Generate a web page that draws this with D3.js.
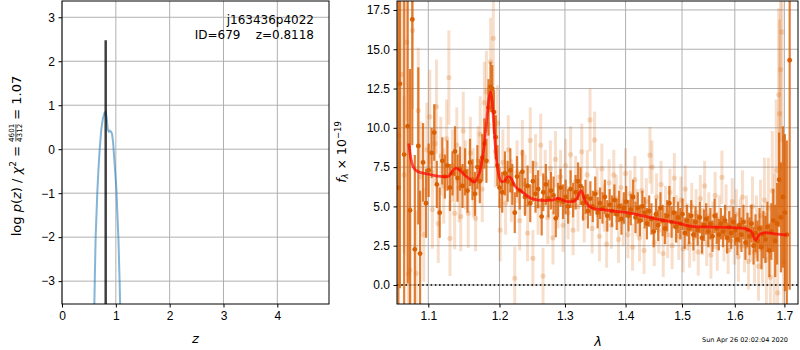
<!DOCTYPE html>
<html>
<head>
<meta charset="utf-8">
<script src="https://cdn.jsdelivr.net/npm/d3@7"></script>
<style>
  body { margin: 0; background: #fff; }
  svg { font-family: "DejaVu Sans", sans-serif; }
  .tick text { font-size: 12px; fill: #000; }
  .tick line { stroke: #000; }
</style>
</head>
<body>
<div id="chart"></div>
<script>
// ---- data ----
var fieldName = "j163436p4022";
var objId = 679;
var zBest = 0.8118;
var zBestPeak = 2.48;

// p(z) curve
var pzZ =    [0.58, 0.600, 0.610, 0.625, 0.655, 0.680, 0.700, 0.730, 0.760, 0.790, 0.810, 0.830, 0.850, 0.870, 0.890, 0.910, 0.930, 0.950, 0.970, 0.990, 1.010, 1.030, 1.050, 1.070, 1.085, 1.10];
var pzLogP = [-5.0, -3.6,  -2.9,  -2.0,  -1.0,  -0.4,  0.0,   0.45,  0.70,  0.83,  0.85,  0.70,  0.45,  0.40,  0.42,  0.40,  0.35,  0.15,  -0.2,  -0.55, -0.9,  -1.5,  -2.1,  -3.0,  -3.8,  -4.6];

var zTicks = [0, 1, 2, 3, 4];
var pzTicks = [-3, -2, -1, 0, 1, 2, 3];
var lamTicks = [1.1, 1.2, 1.3, 1.4, 1.5, 1.6, 1.7];
var fluxTicks = [0, 2.5, 5, 7.5, 10, 12.5, 15, 17.5];

// spectrum: [lambda (micron), flux, err]
var darkPts = [
  [1.0605, 6.2, 14], [1.0625, 12.8, 13], [1.068, 8.3, 11], [1.0726, 10.1, 10], [1.0757, 4.75, 9],
  [1.0787, 16.9, 8], [1.082, 2.27, 6], [1.0866, 8.85, 5], [1.089, 2.0, 4], [1.093, 7.8, 2.5], [1.097, 5.2, 2.2],
  [1.1005, 7.3, 1.7], [1.1045, 8.4, 1.6], [1.108, 9.7, 1.8], [1.1115, 6.4, 1.5], [1.1154, 4.6, 1.6],
  [1.119, 7.9, 1.5], [1.1225, 6.9, 1.4], [1.126, 7.6, 1.6], [1.1295, 6.2, 1.5], [1.133, 7.1, 1.4],
  [1.1365, 8.5, 1.6], [1.140, 6.8, 1.5], [1.1435, 7.4, 1.4], [1.147, 6.3, 1.4], [1.1505, 7.2, 1.5],
  [1.154, 6.0, 1.4], [1.1575, 7.8, 1.5], [1.161, 6.7, 1.3], [1.1645, 5.8, 1.4], [1.168, 7.5, 1.4],
  [1.1715, 6.6, 1.4], [1.175, 8.1, 1.5], [1.178, 9.0, 1.6], [1.181, 7.9, 1.4], [1.184, 11.3, 1.8],
  [1.187, 12.6, 1.6], [1.1895, 12.5, 1.5], [1.192, 11.0, 1.4], [1.1945, 9.4, 1.4], [1.197, 7.6, 1.3],
  [1.200, 6.2, 1.3], [1.204, 5.9, 1.3], [1.208, 7.1, 1.4], [1.212, 6.6, 1.3], [1.216, 7.3, 1.4],
  [1.219, 6.4, 1.3], [1.2226, 4.6, 1.3], [1.226, 6.9, 1.3], [1.230, 6.0, 1.2], [1.234, 7.2, 1.4],
  [1.238, 5.6, 1.2], [1.242, 6.3, 1.3], [1.246, 5.2, 1.2], [1.250, 6.6, 1.3], [1.254, 5.8, 1.2],
  [1.258, 6.1, 1.2], [1.2635, 4.35, 1.2], [1.266, 5.9, 1.2], [1.270, 6.4, 1.3], [1.274, 5.5, 1.2],
  [1.278, 6.0, 1.2], [1.282, 5.7, 1.2], [1.2855, 4.24, 1.2], [1.289, 5.4, 1.1], [1.293, 6.2, 1.2],
  [1.297, 5.3, 1.1], [1.301, 5.6, 1.1], [1.305, 5.0, 1.1], [1.309, 6.1, 1.2], [1.313, 5.4, 1.1],
  [1.317, 5.9, 1.1], [1.321, 6.6, 1.2], [1.325, 6.3, 1.2], [1.329, 5.2, 1.1], [1.333, 5.6, 1.1],
  [1.337, 4.7, 1.1], [1.341, 5.5, 1.1], [1.345, 5.0, 1.0], [1.349, 5.8, 1.1], [1.353, 4.6, 1.0],
  [1.357, 5.2, 1.0], [1.361, 4.9, 1.0], [1.365, 5.6, 1.1], [1.369, 4.4, 1.0], [1.373, 5.1, 1.0],
  [1.377, 4.7, 1.0], [1.381, 5.4, 1.0], [1.385, 4.5, 1.0], [1.389, 5.0, 1.0], [1.393, 4.2, 1.0],
  [1.397, 4.9, 1.0], [1.401, 5.3, 1.0], [1.405, 4.4, 1.0], [1.409, 4.8, 1.0], [1.413, 5.6, 1.1],
  [1.417, 4.3, 1.0], [1.421, 4.9, 1.0], [1.425, 4.1, 1.0], [1.429, 5.0, 1.0], [1.433, 4.6, 1.0],
  [1.437, 3.9, 1.0], [1.441, 4.7, 1.0], [1.445, 4.2, 1.0], [1.449, 3.4, 1.0], [1.453, 4.5, 1.0],
  [1.457, 3.8, 1.0], [1.461, 4.9, 1.0], [1.465, 4.1, 1.0], [1.469, 3.6, 1.0], [1.473, 4.4, 1.0],
  [1.477, 5.2, 1.1], [1.481, 4.0, 1.0], [1.485, 4.6, 1.0], [1.489, 3.7, 1.0], [1.493, 4.3, 1.0],
  [1.497, 3.9, 1.0], [1.501, 4.5, 1.0], [1.505, 3.3, 1.0], [1.509, 4.1, 1.0], [1.513, 3.6, 1.0],
  [1.517, 4.4, 1.0], [1.521, 3.2, 1.0], [1.525, 4.0, 1.0], [1.529, 3.5, 1.0], [1.533, 4.3, 1.0],
  [1.537, 3.0, 1.0], [1.541, 3.8, 1.0], [1.545, 4.2, 1.0], [1.549, 3.4, 1.0], [1.553, 3.9, 1.0],
  [1.557, 3.1, 1.0], [1.561, 4.4, 1.1], [1.565, 3.6, 1.0], [1.569, 3.2, 1.0], [1.573, 3.9, 1.0],
  [1.577, 3.4, 1.0], [1.581, 4.1, 1.0], [1.585, 3.0, 1.0], [1.589, 3.7, 1.0], [1.593, 3.3, 1.0],
  [1.597, 4.0, 1.0], [1.601, 3.5, 1.0], [1.605, 2.9, 1.0], [1.609, 3.8, 1.1], [1.613, 3.2, 1.1],
  [1.617, 4.0, 1.1], [1.621, 2.7, 1.1], [1.625, 3.5, 1.1], [1.629, 3.1, 1.2], [1.633, 3.9, 1.2],
  [1.637, 2.5, 1.2], [1.641, 3.3, 1.2], [1.645, 2.8, 1.3], [1.649, 3.6, 1.3], [1.653, 2.4, 1.4],
  [1.657, 3.2, 1.5], [1.661, 2.9, 1.5], [1.665, 3.7, 1.6], [1.669, 2.2, 1.7], [1.673, 3.4, 1.8],
  [1.677, 4.1, 2.0], [1.681, 2.8, 2.3], [1.685, 3.9, 2.6], [1.689, 6.7, 3.0], [1.693, 4.3, 3.5],
  [1.697, 5.6, 4.5], [1.701, 4.6, 5.0], [1.705, 3.2, 6.0], [1.711, 14.3, 14.6]
];

var lightPts = [
  [1.061, 9.5, 6], [1.0645, 13.4, 5], [1.068, 7.0, 5], [1.0715, 15.45, 5], [1.0735, 0.7, 4],
  [1.0757, 0.95, 4], [1.079, 16.2, 5], [1.0838, 0.74, 4], [1.0866, 11.1, 4], [1.090, 6.9, 3.5],
  [1.094, 3.2, 3], [1.098, 8.6, 3], [1.102, 10.7, 3], [1.1055, 4.8, 2.5], [1.109, 9.0, 2.5],
  [1.111, 11.35, 3], [1.1135, 3.9, 2.5], [1.117, 8.2, 2.5], [1.121, 6.3, 2.4], [1.125, 9.3, 2.5],
  [1.128, 13.2, 3], [1.1295, 2.97, 2.4], [1.133, 7.6, 2.3], [1.136, 4.56, 2.3], [1.139, 8.9, 2.4],
  [1.142, 6.2, 2.2], [1.1445, 4.35, 2.2], [1.148, 9.8, 2.5], [1.151, 7.0, 2.2], [1.155, 4.56, 2.2],
  [1.158, 8.4, 2.3], [1.162, 6.5, 2.2], [1.1655, 4.24, 2.1], [1.169, 7.9, 2.2], [1.172, 9.6, 2.4],
  [1.175, 6.1, 2.1], [1.178, 11.6, 2.6], [1.181, 12.3, 2.6], [1.184, 10.2, 2.5], [1.187, 14.2, 2.8],
  [1.191, 15.7, 3.0], [1.194, 8.5, 2.3], [1.197, 10.3, 2.4], [1.201, 3.5, 2.0], [1.205, 7.8, 2.1],
  [1.209, 5.2, 2.0], [1.213, 8.6, 2.2], [1.2175, 6.0, 2.0], [1.2226, 0.43, 2.0], [1.226, 7.2, 2.0],
  [1.230, 4.1, 1.9], [1.234, 8.4, 2.1], [1.238, 6.4, 1.9], [1.242, 3.3, 1.8], [1.246, 9.2, 2.1],
  [1.250, 1.7, 1.8], [1.254, 7.7, 1.9], [1.258, 5.0, 1.8], [1.262, 8.9, 2.0], [1.2656, 0.57, 1.8],
  [1.269, 6.8, 1.8], [1.273, 4.3, 1.7], [1.277, 7.4, 1.8], [1.281, 3.0, 1.7], [1.285, 8.0, 1.8],
  [1.289, 5.3, 1.7], [1.293, 6.9, 1.7], [1.297, 3.8, 1.7], [1.301, 7.6, 1.7], [1.305, 4.6, 1.7],
  [1.309, 8.3, 1.8], [1.313, 3.5, 1.6], [1.317, 6.6, 1.6], [1.321, 5.0, 1.6], [1.327, 8.47, 1.8],
  [1.331, 4.3, 1.6], [1.336, 7.0, 1.6], [1.3405, 10.5, 2.0], [1.344, 3.6, 1.6], [1.348, 9.23, 1.8],
  [1.352, 5.9, 1.6], [1.356, 3.1, 1.6], [1.360, 7.4, 1.6], [1.364, 4.9, 1.5], [1.368, 2.6, 1.5],
  [1.372, 6.5, 1.5], [1.376, 3.8, 1.5], [1.380, 7.0, 1.6], [1.384, 5.5, 1.5], [1.388, 2.9, 1.5],
  [1.392, 6.2, 1.5], [1.396, 4.0, 1.5], [1.400, 7.1, 1.6], [1.404, 3.2, 1.5], [1.408, 5.8, 1.5],
  [1.412, 2.4, 1.5], [1.416, 6.7, 1.5], [1.420, 4.6, 1.5], [1.424, 3.0, 1.5], [1.428, 6.0, 1.5],
  [1.432, 2.2, 1.5], [1.436, 5.3, 1.5], [1.4424, 8.26, 1.8], [1.446, 7.5, 1.7], [1.450, 2.7, 1.5],
  [1.454, 5.6, 1.5], [1.458, 3.5, 1.5], [1.462, 6.4, 1.5], [1.466, 2.0, 1.5], [1.470, 4.8, 1.5],
  [1.474, 3.2, 1.5], [1.478, 5.9, 1.5], [1.482, 2.5, 1.5], [1.486, 6.8, 1.6], [1.490, 4.2, 1.5],
  [1.494, 3.1, 1.5], [1.498, 5.4, 1.5], [1.502, 2.3, 1.5], [1.506, 6.1, 1.5], [1.510, 3.7, 1.5],
  [1.514, 2.6, 1.5], [1.518, 5.0, 1.5], [1.522, 3.0, 1.5], [1.526, 4.6, 1.5], [1.530, 2.1, 1.5],
  [1.534, 5.5, 1.5], [1.538, 3.4, 1.5], [1.542, 6.3, 1.6], [1.546, 2.7, 1.5], [1.550, 4.4, 1.5],
  [1.554, 1.9, 1.5], [1.558, 3.8, 1.5], [1.562, 5.7, 1.5], [1.566, 2.4, 1.5], [1.570, 4.2, 1.5],
  [1.575, 6.85, 1.7], [1.579, 3.0, 1.5], [1.583, 4.9, 1.5], [1.587, 2.2, 1.5], [1.591, 3.6, 1.5],
  [1.595, 5.3, 1.5], [1.599, 2.8, 1.5], [1.603, 4.5, 1.6], [1.607, 1.8, 1.6], [1.611, 3.9, 1.6],
  [1.615, 5.6, 1.7], [1.619, 2.5, 1.7], [1.623, 4.0, 1.7], [1.627, 1.5, 1.8], [1.631, 3.3, 1.8],
  [1.635, 5.0, 1.9], [1.639, 2.1, 2.0], [1.643, 3.7, 2.0], [1.647, 1.2, 2.2], [1.651, 4.4, 2.3],
  [1.655, 2.6, 2.5], [1.659, 5.4, 2.7], [1.663, 1.6, 3.0], [1.667, 4.9, 3.2], [1.671, 0.5, 3.5],
  [1.675, 6.0, 3.8], [1.679, 2.9, 4.2], [1.683, 7.3, 4.5], [1.686, -0.5, 5], [1.688, 12.1, 5.5],
  [1.690, 10.9, 6], [1.692, 13.7, 6.5], [1.695, 16.1, 7], [1.698, 1.5, 8]
];

// best-fit template
var modelLam =  [1.074, 1.077, 1.080, 1.085, 1.090, 1.100, 1.110, 1.120, 1.127, 1.132, 1.138, 1.143, 1.150, 1.157, 1.163,
                 1.168, 1.173, 1.177, 1.181, 1.1845, 1.187, 1.1895, 1.192, 1.195, 1.198, 1.203, 1.207, 1.212, 1.217, 1.223,
                 1.233, 1.248, 1.268, 1.280, 1.288, 1.297, 1.305, 1.312, 1.319, 1.326, 1.331, 1.335, 1.345, 1.360, 1.380,
                 1.403, 1.430, 1.462, 1.490, 1.522, 1.550, 1.585, 1.617, 1.627, 1.633, 1.641, 1.648, 1.655, 1.662, 1.680, 1.705];
var modelFlux = [9.0, 8.0, 7.5, 7.25, 7.15, 7.05, 6.95, 6.9, 6.9, 7.2, 7.43, 7.3, 7.0, 6.75, 6.55,
                 6.8, 7.5, 8.6, 10.3, 11.8, 12.3, 11.6, 10.0, 8.3, 7.2, 6.57, 6.6, 6.9, 6.8, 6.3,
                 5.95, 5.5, 5.37, 5.4, 5.52, 5.4, 5.3, 5.3, 5.5, 6.0, 5.5, 5.2, 4.88, 4.8, 4.7,
                 4.6, 4.4, 4.14, 3.95, 3.71, 3.69, 3.67, 3.61, 3.5, 3.39, 2.86, 3.18, 3.3, 3.33, 3.25, 3.18];

var stamp = "Sun Apr 26 02:02:04 2020";

// ---- layout ----
var svgWidth = 800, svgHeight = 350;
var pzBox = { left: 62, right: 329, top: 1, bottom: 304 };
var spBox = { left: 397, right: 798, top: 1, bottom: 304 };
var orange = "#d95f02";

var svg = d3.select("#chart").append("svg")
  .attr("width", svgWidth)
  .attr("height", svgHeight);

var defs = svg.append("defs");
[["clipPz", pzBox], ["clipSp", spBox]].forEach(function(c) {
  defs.append("clipPath").attr("id", c[0]).append("rect")
    .attr("x", c[1].left).attr("y", c[1].top)
    .attr("width", c[1].right - c[1].left).attr("height", c[1].bottom - c[1].top);
});

var fmtMinus = function(d) { return d3.format("d")(d).replace("-", "\u2212"); };

// ================= left panel: p(z) =================
var zScale = d3.scaleLinear().domain([0, 4.96]).range([pzBox.left, pzBox.right]);
var pzScale = d3.scaleLinear().domain([-3.52, 3.37]).range([pzBox.bottom, pzBox.top]);

// grid
var pzGrid = svg.append("g").attr("stroke", "#b0b0b0").attr("stroke-width", 1);
zTicks.forEach(function(t) {
  pzGrid.append("line").attr("x1", zScale(t)).attr("x2", zScale(t))
    .attr("y1", pzBox.top).attr("y2", pzBox.bottom);
});
pzTicks.forEach(function(t) {
  pzGrid.append("line").attr("y1", pzScale(t)).attr("y2", pzScale(t))
    .attr("x1", pzBox.left).attr("x2", pzBox.right);
});

var pzPlot = svg.append("g").attr("clip-path", "url(#clipPz)");

var pzLine = d3.line()
  .x(function(d, i) { return zScale(pzZ[i]); })
  .y(function(d) { return pzScale(d); });

pzPlot.append("path")
  .datum(pzLogP)
  .attr("d", pzLine)
  .attr("fill", "none")
  .attr("stroke", "#1f77b4")
  .attr("stroke-opacity", 0.55)
  .attr("stroke-width", 2);

pzPlot.append("line")
  .attr("x1", zScale(zBest)).attr("x2", zScale(zBest))
  .attr("y1", pzBox.bottom).attr("y2", pzScale(zBestPeak))
  .attr("stroke", "#000").attr("stroke-opacity", 0.75).attr("stroke-width", 2.5);

// axes
svg.append("g")
  .attr("transform", "translate(0," + pzBox.bottom + ")")
  .call(d3.axisBottom(zScale).tickValues(zTicks).tickFormat(d3.format("d")).tickSize(3.5).tickSizeOuter(0).tickPadding(3.5))
  .call(function(g) { g.select(".domain").remove(); });

svg.append("g")
  .attr("transform", "translate(" + pzBox.left + ",0)")
  .call(d3.axisLeft(pzScale).tickValues(pzTicks).tickFormat(fmtMinus).tickSize(3.5).tickSizeOuter(0).tickPadding(3.5))
  .call(function(g) { g.select(".domain").remove(); });

svg.append("rect")
  .attr("x", pzBox.left).attr("y", pzBox.top)
  .attr("width", pzBox.right - pzBox.left).attr("height", pzBox.bottom - pzBox.top)
  .attr("fill", "none").attr("stroke", "#000").attr("stroke-width", 1);

// annotations
svg.append("text")
  .attr("x", 314).attr("y", 24)
  .attr("text-anchor", "end")
  .attr("font-size", 12)
  .text(fieldName);
svg.append("text")
  .attr("x", 314).attr("y", 39)
  .attr("text-anchor", "end")
  .attr("font-size", 12)
  .text("ID=" + objId + "\u00a0\u00a0\u00a0\u00a0z=" + zBest.toFixed(4));

// x label
svg.append("text")
  .attr("x", (pzBox.left + pzBox.right) / 2).attr("y", 343)
  .attr("text-anchor", "middle")
  .attr("font-size", 13)
  .attr("font-style", "italic")
  .text("z");

// y label: log p(z) / chi^2 = 4601/4312 = 1.07
var ylab = svg.append("g").attr("transform", "translate(20.5,156) rotate(-90)");
var ylabInner = ylab.append("g");
var t1 = ylabInner.append("text").attr("font-size", 13).attr("x", 0).attr("y", 0);
t1.append("tspan").text("log\u00a0");
t1.append("tspan").attr("font-style", "italic").text("p");
t1.append("tspan").text("(");
t1.append("tspan").attr("font-style", "italic").text("z");
t1.append("tspan").text(")\u00a0/\u00a0");
t1.append("tspan").attr("font-style", "italic").text("\u03c7");
t1.append("tspan").attr("font-size", 9).attr("dy", -5).text("2");
t1.append("tspan").attr("dy", 5).text("\u00a0=\u00a0");
var w1 = t1.node().getComputedTextLength();
var fracW = 18;
ylabInner.append("text").attr("font-size", 7.2).attr("text-anchor", "middle")
  .attr("x", w1 + fracW / 2).attr("y", -6.3).text("4601");
ylabInner.append("line")
  .attr("x1", w1 + 0.5).attr("x2", w1 + fracW - 0.5)
  .attr("y1", -4.6).attr("y2", -4.6)
  .attr("stroke", "#000").attr("stroke-width", 0.7);
ylabInner.append("text").attr("font-size", 7.2).attr("text-anchor", "middle")
  .attr("x", w1 + fracW / 2).attr("y", 1.6).text("4312");
var t3 = ylabInner.append("text").attr("font-size", 13).attr("x", w1 + fracW).attr("y", 0)
  .text("\u00a0=\u00a01.07");
var wTot = w1 + fracW + t3.node().getComputedTextLength();
ylabInner.attr("transform", "translate(" + (-wTot / 2) + ",0)");

// ================= right panel: spectrum =================
var lamScale = d3.scaleLog().domain([1.0587, 1.7285]).range([spBox.left, spBox.right]);
var fluxScale = d3.scaleLinear().domain([-1.21, 18.07]).range([spBox.bottom, spBox.top]);

var spGrid = svg.append("g").attr("stroke", "#b0b0b0").attr("stroke-width", 1);
lamTicks.forEach(function(t) {
  spGrid.append("line").attr("x1", lamScale(t)).attr("x2", lamScale(t))
    .attr("y1", spBox.top).attr("y2", spBox.bottom);
});
fluxTicks.forEach(function(t) {
  spGrid.append("line").attr("y1", fluxScale(t)).attr("y2", fluxScale(t))
    .attr("x1", spBox.left).attr("x2", spBox.right);
});

var spPlot = svg.append("g").attr("clip-path", "url(#clipSp)");

// light (masked) points
spPlot.append("g").selectAll("line")
  .data(lightPts).enter().append("line")
  .attr("x1", d => lamScale(d[0])).attr("x2", d => lamScale(d[0]))
  .attr("y1", d => fluxScale(d[1] - d[2])).attr("y2", d => fluxScale(d[1] + d[2]))
  .attr("stroke", orange).attr("stroke-opacity", 0.2).attr("stroke-width", 3);
spPlot.append("g").selectAll("circle")
  .data(lightPts).enter().append("circle")
  .attr("cx", d => lamScale(d[0])).attr("cy", d => fluxScale(d[1]))
  .attr("r", 2.6)
  .attr("fill", orange).attr("fill-opacity", 0.22);

// zero line
spPlot.append("line")
  .attr("x1", spBox.left).attr("x2", spBox.right)
  .attr("y1", fluxScale(0)).attr("y2", fluxScale(0))
  .attr("stroke", "#000").attr("stroke-width", 1.6)
  .attr("stroke-dasharray", "1.6,2.6");

// dark points
spPlot.append("g").selectAll("line")
  .data(darkPts).enter().append("line")
  .attr("x1", d => lamScale(d[0])).attr("x2", d => lamScale(d[0]))
  .attr("y1", d => fluxScale(d[1] - d[2])).attr("y2", d => fluxScale(d[1] + d[2]))
  .attr("stroke", orange).attr("stroke-opacity", 0.8).attr("stroke-width", 2.2);
spPlot.append("g").selectAll("circle")
  .data(darkPts).enter().append("circle")
  .attr("cx", d => lamScale(d[0])).attr("cy", d => fluxScale(d[1]))
  .attr("r", 2.4)
  .attr("fill", orange);

// model
var modelLine = d3.line()
  .x(function(d, i) { return lamScale(modelLam[i]); })
  .y(function(d) { return fluxScale(d); })
  .curve(d3.curveMonotoneX);
spPlot.append("path")
  .datum(modelFlux)
  .attr("d", modelLine)
  .attr("fill", "none")
  .attr("stroke", "#ff0000")
  .attr("stroke-opacity", 0.7)
  .attr("stroke-width", 2.8);

// axes
svg.append("g")
  .attr("transform", "translate(0," + spBox.bottom + ")")
  .call(d3.axisBottom(lamScale).tickValues(lamTicks).tickFormat(d3.format(".1f")).tickSize(3.5).tickSizeOuter(0).tickPadding(3.5))
  .call(function(g) { g.select(".domain").remove(); });

svg.append("g")
  .attr("transform", "translate(" + spBox.left + ",0)")
  .call(d3.axisLeft(fluxScale).tickValues(fluxTicks).tickFormat(d3.format(".1f")).tickSize(3.5).tickSizeOuter(0).tickPadding(3.5))
  .call(function(g) { g.select(".domain").remove(); });

svg.append("rect")
  .attr("x", spBox.left).attr("y", spBox.top)
  .attr("width", spBox.right - spBox.left).attr("height", spBox.bottom - spBox.top)
  .attr("fill", "none").attr("stroke", "#000").attr("stroke-width", 1);

svg.append("text")
  .attr("x", 598).attr("y", 346)
  .attr("text-anchor", "middle")
  .attr("font-size", 13)
  .attr("font-style", "italic")
  .text("\u03bb");

var flab = svg.append("text")
  .attr("transform", "translate(345.5,152) rotate(-90)")
  .attr("text-anchor", "middle")
  .attr("font-size", 12.5);
flab.append("tspan").attr("font-style", "italic").text("f");
flab.append("tspan").attr("font-size", 8.5).attr("font-style", "italic").attr("dy", 2.5).text("\u03bb");
flab.append("tspan").attr("dy", -2.5).text(" \u00d7 10");
flab.append("tspan").attr("font-size", 8.5).attr("dy", -5).text("\u221219");

svg.append("text")
  .attr("x", 788).attr("y", 342)
  .attr("text-anchor", "end")
  .attr("font-size", 6.5)
  .text(stamp);
</script>
</body>
</html>
